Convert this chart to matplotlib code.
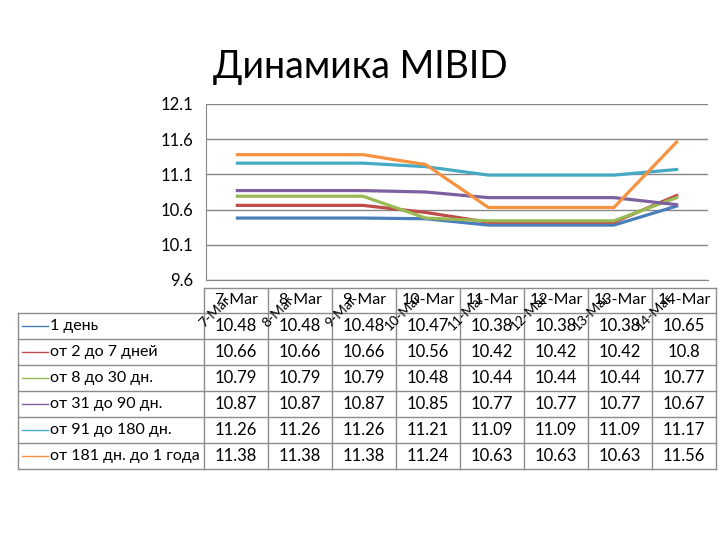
import matplotlib
matplotlib.use("Agg")
import matplotlib.pyplot as plt

plt.rcParams["font.family"] = ["Lato", "Noto Sans", "DejaVu Sans"]

dates = ["7-Mar", "8-Mar", "9-Mar", "10-Mar", "11-Mar", "12-Mar", "13-Mar", "14-Mar"]
series_names = ["1 день", "от 2 до 7 дней", "от 8 до 30 дн.", "от 31 до 90 дн.",
                "от 91 до 180 дн.", "от 181 дн. до 1 года"]
day1 = [10.48, 10.48, 10.48, 10.47, 10.38, 10.38, 10.38, 10.65]
d2_7 = [10.66, 10.66, 10.66, 10.56, 10.42, 10.42, 10.42, 10.8]
d8_30 = [10.79, 10.79, 10.79, 10.48, 10.44, 10.44, 10.44, 10.77]
d31_90 = [10.87, 10.87, 10.87, 10.85, 10.77, 10.77, 10.77, 10.67]
d91_180 = [11.26, 11.26, 11.26, 11.21, 11.09, 11.09, 11.09, 11.17]
d181_1y = [11.38, 11.38, 11.38, 11.24, 10.63, 10.63, 10.63, 11.56]
series = [day1, d2_7, d8_30, d31_90, d91_180, d181_1y]
colors = ["#4A7EBB", "#BE4B48", "#98B954", "#7D60A0", "#46AAC5", "#F69240"]
yticks = [9.6, 10.1, 10.6, 11.1, 11.6, 12.1]

W, H = 720, 540
fig = plt.figure(figsize=(W / 100, H / 100), dpi=100)
fig.text(360 / W, 1 - 67 / H, "Динамика MIBID", ha="center", va="center", fontsize=27)

# chart area (pixel box: x 206..708, y 104..280)
ax = fig.add_axes([206 / W, 1 - 280 / H, 502 / W, 176 / H])
x = list(range(len(dates)))
for vals, c in zip(series, colors):
    ax.plot(x, vals, color=c, lw=2.3, solid_joinstyle="round")
ax.set_xlim(-0.5, len(dates) - 0.5)
ax.set_ylim(yticks[0], yticks[-1])
ax.set_yticks(yticks)
ax.set_yticklabels([f"{v:.1f}" for v in yticks], fontsize=12)
ax.set_xticks([])
ax.tick_params(axis="y", length=0, pad=9)
ax.grid(axis="y", color="#868686", lw=1)
for s in ["top", "right"]:
    ax.spines[s].set_visible(False)
for s in ["left", "bottom"]:
    ax.spines[s].set_color("#868686")

for i, d in enumerate(dates):
    ax.annotate(d, xy=(i, 0), xycoords=("data", "axes fraction"), xytext=(-16, -23),
                textcoords="offset points", rotation=45, ha="center", va="center",
                fontsize=10, annotation_clip=False)

# data table below, drawn in pixel coordinates
tx = fig.add_axes([0, 0, 1, 1], zorder=-1)
tx.set_xlim(0, W)
tx.set_ylim(H, 0)
tx.axis("off")
gc = "#8C8C8C"
col0, colw, ncol = 204, 64, len(dates)
head_top, row_top, rowh = 288, 313, 26
right = col0 + colw * ncol
bottom = row_top + rowh * len(series)

tx.plot([col0, right], [head_top, head_top], color=gc, lw=1)
for r in range(len(series) + 1):
    y = row_top + r * rowh
    tx.plot([18, right], [y, y], color=gc, lw=1)
tx.plot([18, 18], [row_top, bottom], color=gc, lw=1)
for c in range(ncol + 1):
    xc = col0 + c * colw
    tx.plot([xc, xc], [head_top, bottom], color=gc, lw=1)

for c, d in enumerate(dates):
    tx.text(col0 + (c + 0.5) * colw, head_top + 12.5, d, ha="center", va="center", fontsize=11.5)

for r, (name, vals, colr) in enumerate(zip(series_names, series, colors)):
    yc = row_top + (r + 0.5) * rowh
    tx.plot([22, 48], [yc, yc], color=colr, lw=1)
    tx.text(50, yc, name, ha="left", va="center", fontsize=11.5)
    for c, v in enumerate(vals):
        tx.text(col0 + (c + 0.5) * colw, yc, f"{v:g}", ha="center", va="center", fontsize=12)

fig.savefig("out.png", dpi=100)
